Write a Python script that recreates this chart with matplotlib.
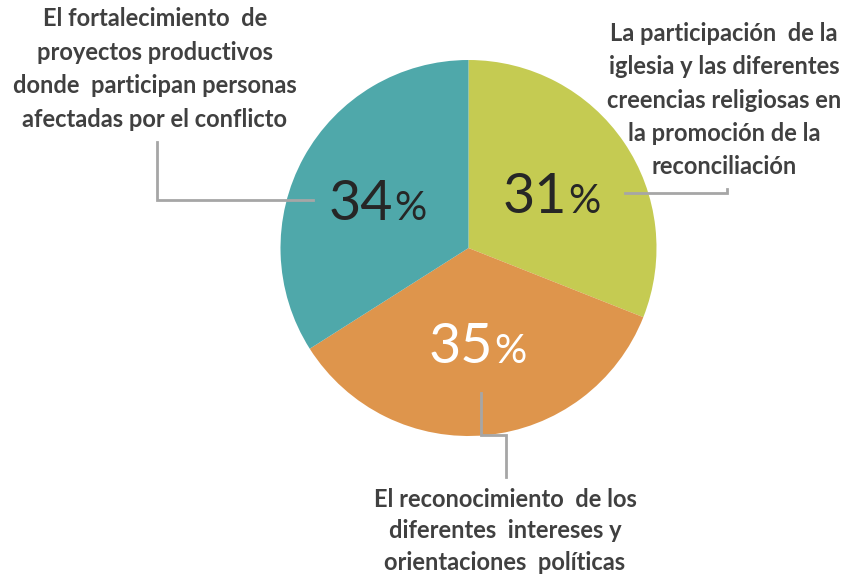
import matplotlib
matplotlib.use("Agg")
import matplotlib.pyplot as plt

categories = [
    "La participación  de la\niglesia y las diferentes\ncreencias religiosas en\nla promoción de la\nreconciliación",
    "El reconocimiento  de los\ndiferentes  intereses y\norientaciones  políticas",
    "El fortalecimiento  de\nproyectos productivos\ndonde  participan personas\nafectadas por el conflicto",
]
values = [31, 35, 34]
colors = ["#C5CB52", "#DE954C", "#4FA8AA"]
pct_colors = ["#262626", "#FFFFFF", "#262626"]

W, H = 850, 578
fig = plt.figure(figsize=(W / 100, H / 100), dpi=100)
ax = fig.add_axes([0, 0, 1, 1])

def Y(py):
    return H - py

cx, cy, r = 468.5, Y(248), 188
ax.pie(values, colors=colors, startangle=90, counterclock=False,
       center=(cx, cy), radius=r, frame=True,
       wedgeprops=dict(linewidth=0))
ax.set_xlim(0, W)
ax.set_ylim(0, H)
ax.set_aspect("equal")
ax.axis("off")

font = "Lato"
lc = "#A6A6A6"
lw = 2.0
# leader lines (pixel coords)
ax.plot([157, 157, 313], [Y(142), Y(200), Y(200)], color=lc, lw=lw, solid_joinstyle="miter")
ax.plot([625, 727, 727], [Y(193), Y(193), Y(189)], color=lc, lw=lw, solid_joinstyle="miter")
ax.plot([481, 481, 506, 506], [Y(393), Y(435), Y(435), Y(477)], color=lc, lw=lw, solid_joinstyle="miter")

# category labels (block centres, line spacing)
label_pos = [(724, 100, 1.55), (505, 531, 1.45), (155, 69, 1.55)]
for txt, (x, y, ls) in zip(categories, label_pos):
    ax.text(x, Y(y), txt, ha="center", va="center", fontsize=17,
            fontweight="bold", family=font, color="#404040",
            linespacing=ls)

# percentage labels: (split x, baseline y)
pct_pos = [(567, 213), (493, 363), (393, 220)]
for v, (x, y), c in zip(values, pct_pos, pct_colors):
    ax.text(x, Y(y), f"{v}", ha="right", va="baseline", fontsize=40,
            family=font, color=c)
    ax.text(x + 1, Y(y), "%", ha="left", va="baseline", fontsize=29,
            family=font, color=c)

fig.savefig("out.png", dpi=100)
